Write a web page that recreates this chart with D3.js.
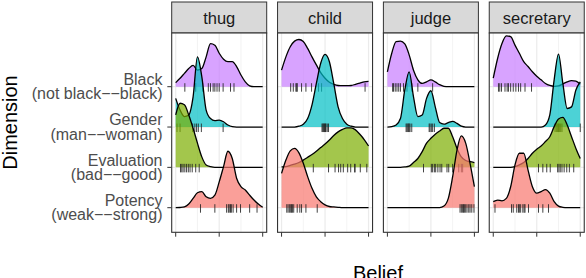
<!DOCTYPE html>
<html>
<head>
<meta charset="utf-8">
<script src="https://cdnjs.cloudflare.com/ajax/libs/d3/7.8.5/d3.min.js"></script>
<style>
  body { margin: 0; background: #fff; }
  svg { display: block; font-family: "Liberation Sans", Arial, Helvetica, sans-serif; }
</style>
</head>
<body>
<script>
// facets and ridge rows
var facets = ["thug", "child", "judge", "secretary"];
var dims = ["Black", "Gender", "Evaluation", "Potency"];
var dimLabels = [["Black", "(not black\u2212\u2212black)"], ["Gender", "(man\u2212\u2212woman)"],
                 ["Evaluation", "(bad\u2212\u2212good)"], ["Potency", "(weak\u2212\u2212strong)"]];
var dimColors = ["#C77CFF", "#00BFC4", "#7CAE00", "#F8766D"];
var xTicks = [-1, 0, 1];
var xMinor = [-0.5, 0.5];

// belief values where ridge heights were read
var beliefGrid = [-1, -0.9, -0.8, -0.7, -0.6, -0.5, -0.4, -0.3, -0.2, -0.1, 0,
                  0.1, 0.2, 0.3, 0.4, 0.5, 0.6, 0.7, 0.8, 0.9, 1];

// ridge heights (in row spacings)
var thugBlack = [0.10,0.21,0.33,0.45,0.53,0.41,0.45,0.74,1.07,1.03,0.83,0.68,0.62,0.62,0.50,0.29,0.12,0.02,0,0,0];
var thugGender = [0.71,0.42,0.26,0.30,0.75,1.74,1.25,0.42,0.21,0.16,0.17,0.13,0.05,0.01,0,0,0,0,0,0,0];
var thugEvaluation = [1.30,1.59,1.55,1.30,0.97,0.60,0.26,0.06,0.02,0,0,0,0,0,0,0,0,0,0,0,0];
var thugPotency = [0,0.005,0.02,0.09,0.23,0.37,0.40,0.27,0.23,0.31,0.64,1.02,1.40,1.22,0.73,0.52,0.44,0.31,0.19,0.09,0.01];

var childBlack = [0.41,0.74,0.99,1.13,1.17,1.12,0.95,0.74,0.54,0.35,0.21,0.11,0.06,0.03,0.025,0.025,0.03,0.06,0.09,0.12,0.13];
var childGender = [0,0,0,0,0.02,0.07,0.21,0.55,1.08,1.58,1.80,1.62,1.08,0.50,0.21,0.07,0.02,0,0,0,0];
var childEvaluation = [0.01,0.02,0.05,0.08,0.12,0.18,0.25,0.32,0.40,0.49,0.58,0.68,0.79,0.88,0.94,0.98,0.98,0.93,0.82,0.69,0.53];
var childPotency = [0.85,1.18,1.41,1.47,1.36,1.10,0.77,0.48,0.27,0.15,0.07,0.03,0.02,0.01,0,0,0,0,0,0,0];

var judgeBlack = [0.37,0.83,1.12,1.13,1.06,0.79,0.41,0.17,0.08,0.12,0.17,0.12,0.05,0.01,0,0,0,0,0,0,0];
var judgeGender = [0,0.01,0.05,0.21,0.92,1.37,0.75,0.26,0.30,0.71,0.90,0.50,0.11,0.07,0.11,0.14,0.09,0.02,0,0,0];
var judgeEvaluation = [0,0,0,0,0.01,0.03,0.12,0.22,0.39,0.60,0.72,0.82,0.90,0.97,0.97,0.76,0.47,0.26,0.17,0.14,0.12];
var judgePotency = [0,0,0,0,0,0,0,0,0,0,0,0,0,0.04,0.23,0.77,1.43,1.78,1.60,1.10,0.52];

var secretaryBlack = [0.21,0.70,1.07,1.26,1.24,1.03,0.83,0.62,0.50,0.37,0.26,0.17,0.08,0.03,0.01,0.02,0.07,0.12,0.15,0.14,0.06];
var secretaryGender = [0,0,0,0,0,0,0,0,0,0,0,0,0.05,0.30,1.17,1.81,1.08,0.46,0.50,0.92,1.12];
var secretaryEvaluation = [0,0,0,0,0,0.02,0.06,0.12,0.22,0.35,0.45,0.53,0.64,0.76,1.01,1.20,1.24,1.05,0.76,0.47,0.22];
var secretaryPotency = [0.15,0.19,0.17,0.23,0.52,1.06,1.35,1.35,0.93,0.52,0.36,0.40,0.45,0.36,0.15,0.04,0.01,0,0,0,0];

// individual beliefs (rug marks)
var thugBlackPts = [-0.79,-0.54,-0.38,-0.25,-0.20,-0.14,-0.10,-0.05,0,0.09,0.26,0.34];
var thugGenderPts = [-0.97,-0.90,-0.61,-0.56,-0.52,-0.48,-0.41,0.09];
var thugEvaluationPts = [-0.89,-0.86,-0.83,-0.79,-0.75,-0.71,-0.67,-0.62,-0.54,-0.46];
var thugPotencyPts = [-0.43,-0.10,0.17,0.21,0.23,0.26,0.28,0.32,0.40,0.49,0.70,0.87];

var childBlackPts = [-0.79,-0.73,-0.67,-0.65,-0.64,-0.54,-0.44,-0.31,-0.15,-0.08,0.92];
var childGenderPts = [-0.07,-0.05,-0.04,-0.02,-0.01,0.01,0.02,0.05,0.08];
var childEvaluationPts = [-0.27,0.08,0.23,0.31,0.36,0.42,0.52,0.59,0.68,0.69,0.81,0.96];
var childPotencyPts = [-0.88,-0.85,-0.82,-0.79,-0.77,-0.75,-0.72,-0.64,-0.58,-0.54,-0.44,-0.18];

var judgeBlackPts = [-0.88,-0.86,-0.82,-0.78,-0.74,-0.70,-0.63,-0.55,-0.44,-0.30,0.04];
var judgeGenderPts = [-0.57,-0.55,-0.53,-0.51,-0.50,-0.48,-0.44,-0.04,-0.02,0.01,0.04,0.08];
var judgeEvaluationPts = [-0.17,0.01,0.04,0.08,0.11,0.16,0.21,0.25,0.37,0.41,0.50,0.64,0.70,0.73];
var judgePotencyPts = [0.67,0.70,0.73,0.75,0.77,0.80,0.83,0.87,0.90,0.94,0.99];

var secretaryBlackPts = [-0.88,-0.85,-0.81,-0.73,-0.68,-0.65,-0.60,-0.54,-0.48,-0.42,-0.37,-0.27,-0.12];
var secretaryGenderPts = [0.42,0.45,0.48,0.50,0.52,0.55,0.58,1.0];
var secretaryEvaluationPts = [0.04,0.14,0.23,0.31,0.48,0.51,0.54,0.58,0.63,0.69,0.75,0.85];
var secretaryPotencyPts = [-0.96,-0.58,-0.54,-0.46,-0.42,-0.40,-0.37,-0.32,-0.29,-0.27,-0.19,0.04,0.14,0.27];

var heights = {
  thug: [thugBlack, thugGender, thugEvaluation, thugPotency],
  child: [childBlack, childGender, childEvaluation, childPotency],
  judge: [judgeBlack, judgeGender, judgeEvaluation, judgePotency],
  secretary: [secretaryBlack, secretaryGender, secretaryEvaluation, secretaryPotency]
};
var points = {
  thug: [thugBlackPts, thugGenderPts, thugEvaluationPts, thugPotencyPts],
  child: [childBlackPts, childGenderPts, childEvaluationPts, childPotencyPts],
  judge: [judgeBlackPts, judgeGenderPts, judgeEvaluationPts, judgePotencyPts],
  secretary: [secretaryBlackPts, secretaryGenderPts, secretaryEvaluationPts, secretaryPotencyPts]
};

var W = 586, H = 278;
var panelLeft = 171.7, panelW = 95, panelStep = 105.85;
var stripTop = 2, panelTop = 33, panelBottom = 232.3;

var svg = d3.select("body").append("svg").attr("width", W).attr("height", H);

var x = d3.scaleLinear().domain([-1.092, 1.092]).range([0, panelW]);
var y = d3.scalePoint().domain(dims).range([86.7, 207.7]);
var rowStep = y.step();

// y axis labels + ticks
dims.forEach(function(d, i) {
  var t = svg.append("text").attr("text-anchor", "end")
    .attr("fill", "#4D4D4D").style("font-size", "16px");
  t.append("tspan").attr("x", 162.5).attr("y", y(d) - 1.7).text(dimLabels[i][0]);
  t.append("tspan").attr("x", 162.5).attr("y", y(d) + 12.7).text(dimLabels[i][1]);
  svg.append("line").attr("x1", panelLeft - 4.4).attr("x2", panelLeft)
    .attr("y1", y(d)).attr("y2", y(d)).attr("stroke", "#333").attr("stroke-width", 1);
});

facets.forEach(function(f, p) {
  var g = svg.append("g").attr("transform", "translate(" + (panelLeft + p * panelStep) + ",0)");

  // strip
  g.append("rect").attr("x", 0).attr("y", stripTop).attr("width", panelW).attr("height", panelTop - stripTop)
    .attr("fill", "#D9D9D9").attr("stroke", "#333").attr("stroke-width", 1);
  g.append("text").attr("x", panelW / 2).attr("y", 24).attr("text-anchor", "middle")
    .attr("fill", "#1A1A1A").style("font-size", "16.5px").text(f);

  // panel bg + grid
  g.append("rect").attr("x", 0).attr("y", panelTop).attr("width", panelW).attr("height", panelBottom - panelTop)
    .attr("fill", "#fff");
  g.selectAll("line.minor").data(xMinor).enter().append("line")
    .attr("x1", x).attr("x2", x).attr("y1", panelTop).attr("y2", panelBottom)
    .attr("stroke", "#EBEBEB").attr("stroke-width", 0.6);
  g.selectAll("line.major").data(xTicks).enter().append("line")
    .attr("x1", x).attr("x2", x).attr("y1", panelTop).attr("y2", panelBottom)
    .attr("stroke", "#EBEBEB").attr("stroke-width", 1.2);
  g.selectAll("line.hgrid").data(dims).enter().append("line")
    .attr("x1", 0).attr("x2", panelW).attr("y1", y).attr("y2", y)
    .attr("stroke", "#EBEBEB").attr("stroke-width", 1.2);

  // ridges, top row first so lower rows overlap
  dims.forEach(function(d, i) {
    var base = y(d);
    var rows = beliefGrid.map(function(b, k) { return {b: b, h: heights[f][i][k]}; });

    var area = d3.area()
      .x(function(r) { return x(r.b); })
      .y0(base)
      .y1(function(r) { return base - r.h * rowStep; })
      .curve(d3.curveMonotoneX);
    var line = d3.line()
      .x(function(r) { return x(r.b); })
      .y(function(r) { return base - r.h * rowStep; })
      .curve(d3.curveMonotoneX);

    g.append("path").attr("d", area(rows)).attr("fill", dimColors[i]).attr("fill-opacity", 0.7);
    g.append("path").attr("d", line(rows)).attr("fill", "none")
      .attr("stroke", "#000").attr("stroke-width", 1.3);

    g.selectAll("line.rug" + i).data(points[f][i]).enter().append("line")
      .attr("x1", function(v) { return x(v); }).attr("x2", function(v) { return x(v); })
      .attr("y1", base - 3.5).attr("y2", base + 5)
      .attr("stroke", "#222").attr("stroke-opacity", 0.85).attr("stroke-width", 1);
  });

  // panel border
  g.append("rect").attr("x", 0).attr("y", panelTop).attr("width", panelW).attr("height", panelBottom - panelTop)
    .attr("fill", "none").attr("stroke", "#333").attr("stroke-width", 1.1);

  // x ticks (no labels)
  g.selectAll("line.xt").data(xTicks).enter().append("line")
    .attr("x1", x).attr("x2", x).attr("y1", panelBottom).attr("y2", panelBottom + 4.4)
    .attr("stroke", "#333").attr("stroke-width", 1);
});

// axis titles
svg.append("text").attr("x", panelLeft + (3 * panelStep + panelW) / 2).attr("y", 279.5)
  .attr("text-anchor", "middle").attr("fill", "#000").style("font-size", "20px").text("Belief");
svg.append("text").attr("transform", "translate(16.5,122.5) rotate(-90)")
  .attr("text-anchor", "middle").attr("fill", "#000").style("font-size", "20px").text("Dimension");
</script>
</body>
</html>
